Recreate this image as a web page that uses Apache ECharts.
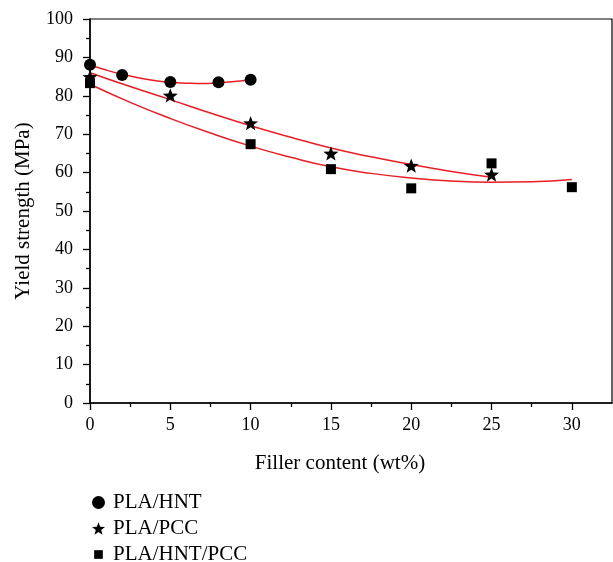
<!DOCTYPE html>
<html>
<head>
<meta charset="utf-8">
<script src="https://cdn.jsdelivr.net/npm/echarts@6/dist/echarts.min.js"></script>
<style>
  html, body { margin: 0; padding: 0; background: #fff; }
  #chart { width: 613px; height: 562px; }
</style>
</head>
<body>
<div id="chart"></div>
<script>
// Measured yield strength (MPa) against filler content (wt%)
const hntX = [0, 2, 5, 8, 10];
const hntY = [88.1, 85.4, 83.6, 83.5, 84.2];
const pccX = [0, 5, 10, 15, 20, 25];
const pccY = [84.9, 80.1, 72.9, 65.0, 61.8, 59.5];
const hybX = [0, 10, 15, 20, 25, 30];
const hybY = [83.3, 67.4, 60.9, 55.9, 62.4, 56.2];

// Fitted trend curves
const hntFitX = [0, 1, 2, 3, 4, 5, 6, 7, 8, 9, 10];
const hntFitY = [88.0, 86.7, 85.6, 84.7, 84.0, 83.5, 83.3, 83.2, 83.4, 83.7, 84.2];
const pccFitX = [0, 2.5, 5, 7.5, 10, 12.5, 15, 17.5, 20, 22.5, 25];
const pccFitY = [86.0, 82.4, 79.0, 75.5, 72.2, 69.2, 66.4, 64.1, 62.1, 60.3, 58.8];
const hybFitX = [0, 2.5, 5, 7.5, 10, 12.5, 15, 17.5, 20, 22.5, 25, 27.5, 30];
const hybFitY = [83.0, 78.3, 74.1, 70.3, 66.9, 64.0, 61.5, 59.8, 58.6, 57.8, 57.5, 57.6, 58.2];

// Axis tick labels
const xMajorTicks = [0, 5, 10, 15, 20, 25, 30];
const xMinorTicks = [2.5, 7.5, 12.5, 17.5, 22.5, 27.5];

const seriesNames = ['PLA/HNT', 'PLA/PCC', 'PLA/HNT/PCC'];

const STAR = 'path://M0,-10 L2.47,-3.4 L9.51,-3.09 L3.99,1.3 L5.88,8.09 L0,4.2 L-5.88,8.09 L-3.99,1.3 L-9.51,-3.09 L-2.47,-3.4 Z';
const SMALL_SQUARE = 'path://M0,0 M12,12 M2,2 L10,2 L10,10 L2,10 Z';
const FONT = 'Liberation Serif';
const RED = '#ec1c24';

const zip = (xs, ys) => xs.map((x, i) => [x, ys[i]]);

function fitSeries(name, xs, ys) {
  return {
    name: name,
    type: 'line',
    data: zip(xs, ys),
    smooth: true,
    showSymbol: false,
    symbol: 'none',
    lineStyle: { color: RED, width: 1.5 },
    silent: true,
    z: 2
  };
}

function pointSeries(name, xs, ys, symbol, size) {
  return {
    name: name,
    type: 'scatter',
    data: zip(xs, ys),
    symbol: symbol,
    symbolSize: size,
    symbolKeepAspect: true,
    clip: false,
    itemStyle: { color: '#000', opacity: 1 },
    z: 3
  };
}

const chart = echarts.init(document.getElementById('chart'), null, { renderer: 'canvas' });

chart.setOption({
  animation: false,
  backgroundColor: '#fff',
  textStyle: { fontFamily: FONT, color: '#000' },
  grid: [
    { left: 90, right: 1, top: 19, bottom: 159, show: true, borderColor: '#000', borderWidth: 1.2, backgroundColor: 'transparent' },
    { left: 90, right: 1, top: 19, bottom: 159 }
  ],
  legend: {
    orient: 'vertical',
    left: 92,
    top: 492,
    height: 90,
    padding: 0,
    itemWidth: 13,
    itemHeight: 13,
    itemGap: 5,
    textStyle: { fontFamily: FONT, fontSize: 21, lineHeight: 20, color: '#000', padding: [0, 0, 0, 3] },
    data: [
      { name: seriesNames[0], icon: 'circle' },
      { name: seriesNames[1], icon: STAR },
      { name: seriesNames[2], icon: SMALL_SQUARE }
    ]
  },
  xAxis: [
    {
      type: 'value',
      gridIndex: 0,
      min: 0,
      max: 32.5,
      name: 'Filler content (wt%)',
      nameLocation: 'middle',
      nameGap: 50,
      nameTextStyle: { fontFamily: FONT, fontSize: 21, color: '#000', padding: [0, 22, 0, 0] },
      splitLine: { show: false },
      axisLine: { show: true, onZero: false, lineStyle: { color: '#000', width: 1.5 } },
      axisTick: { show: true, inside: false, length: 7, customValues: xMajorTicks, lineStyle: { color: '#000', width: 1.3 } },
      axisLabel: { customValues: xMajorTicks, fontFamily: FONT, fontSize: 18, color: '#000', margin: 13 }
    },
    {
      type: 'value',
      gridIndex: 1,
      min: 0,
      max: 32.5,
      splitLine: { show: false },
      axisLine: { show: false },
      axisTick: { show: true, inside: false, length: 4, customValues: xMinorTicks, lineStyle: { color: '#000', width: 1.3 } },
      axisLabel: { show: false }
    }
  ],
  yAxis: [
    {
      type: 'value',
      gridIndex: 0,
      min: 0,
      max: 100,
      interval: 10,
      name: 'Yield strength (MPa)',
      nameLocation: 'middle',
      nameGap: 56,
      nameTextStyle: { fontFamily: FONT, fontSize: 21, color: '#000' },
      splitLine: { show: false },
      axisLine: { show: true, onZero: false, lineStyle: { color: '#000', width: 1.5 } },
      axisTick: { show: true, inside: false, length: 7, lineStyle: { color: '#000', width: 1.3 } },
      minorTick: { show: true, splitNumber: 2, length: 4, lineStyle: { color: '#000', width: 1.3 } },
      axisLabel: { fontFamily: FONT, fontSize: 18, color: '#000', margin: 17 }
    },
    {
      type: 'value',
      gridIndex: 1,
      min: 0,
      max: 100,
      show: false
    }
  ],
  series: [
    fitSeries('fit-hnt', hntFitX, hntFitY),
    fitSeries('fit-pcc', pccFitX, pccFitY),
    fitSeries('fit-hyb', hybFitX, hybFitY),
    pointSeries(seriesNames[0], hntX, hntY, 'circle', 12),
    pointSeries(seriesNames[1], pccX, pccY, STAR, 15),
    pointSeries(seriesNames[2], hybX, hybY, 'rect', 10)
  ]
});
</script>
</body>
</html>
